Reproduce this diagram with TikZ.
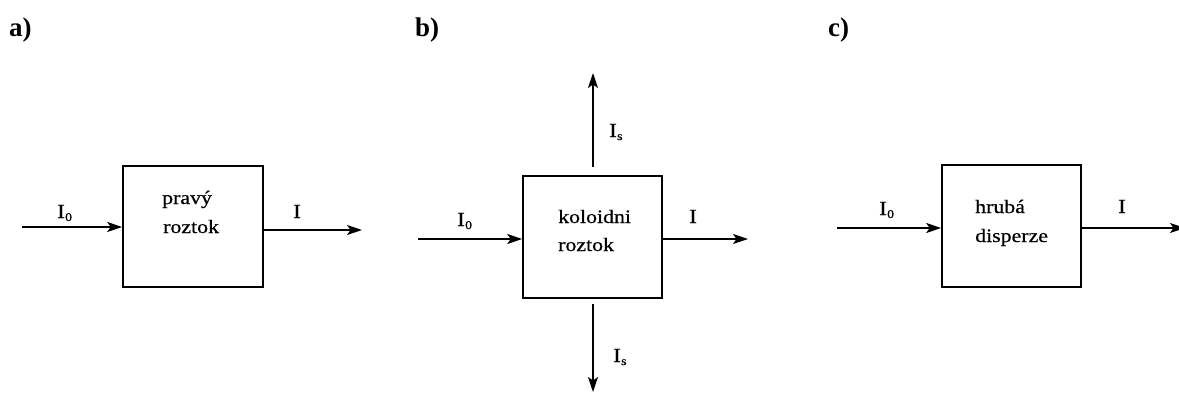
\documentclass[tikz,border=0pt]{standalone}
\usepackage{fontspec}
\setmainfont{Liberation Serif}
\newfontfamily\labfont[FakeStretch=1.15,FakeBold=0.6]{Liberation Serif}
\usetikzlibrary{arrows.meta}
\tikzset{
  blockbox/.style={draw, line width=1.6pt, rectangle, inner sep=0pt},
  flow/.style={line width=1.5pt, -{Stealth[length=15pt,width=10pt,inset=3.5pt]}},
  boxtext/.style={anchor=base west, inner sep=0pt, font=\labfont\fontsize{19}{19}\selectfont},
  flowlab/.style={anchor=base west, inner sep=0pt, font=\labfont\fontsize{20}{20}\selectfont},
  panel/.style={anchor=base west, inner sep=0pt, font=\bfseries\fontsize{27}{27}\selectfont}
}
\newcommand{\Isub}[1]{I\kern0.3pt\raisebox{-3pt}{\fontsize{12}{12}\selectfont #1}}
\begin{document}
\begin{tikzpicture}[x=1pt,y=-1pt]
\useasboundingbox (0,0) rectangle (1179,394);
% panel labels
\node[panel] (la) at (9,36) {a)};
\node[panel] (lb) at (415,36) {b)};
\node[panel] (lc) at (828,36) {c)};
% ---- a ----
\node[blockbox, minimum width=140pt, minimum height=121pt] (boxa) at (193,226.5) {};
\node[boxtext] (ta1) at (162,204) {pravý};
\node[boxtext] (ta2) at (163,233) {roztok};
\coordinate (ina) at (22,227);
\coordinate (outa) at (362,230);
\draw[flow] (ina) -- (ina -| boxa.west);
\draw[flow] (outa -| boxa.east) -- (outa);
\node[flowlab] (ia0) at (57,218) {\Isub{0}};
\node[flowlab] (ia) at (293,218) {I};
% ---- b ----
\node[blockbox, minimum width=139pt, minimum height=122pt] (boxb) at (592.5,237) {};
\node[boxtext] (tb1) at (558,223) {koloidni};
\node[boxtext] (tb2) at (558,251) {roztok};
\coordinate (inb) at (418,239);
\coordinate (outb) at (748,239);
\coordinate (upb0) at (593,167);
\coordinate (upb) at (593,73);
\coordinate (dnb0) at (593,304);
\coordinate (dnb) at (593,392);
\draw[flow] (inb) -- (inb -| boxb.west);
\draw[flow] (outb -| boxb.east) -- (outb);
\draw[flow] (upb0) -- (upb);
\draw[flow] (dnb0) -- (dnb);
\node[flowlab] (ib0) at (457,226) {\Isub{0}};
\node[flowlab] (ib) at (689,223) {I};
\node[flowlab] (ibs1) at (609,137) {\Isub{s}};
\node[flowlab] (ibs2) at (613,362) {\Isub{s}};
% ---- c ----
\node[blockbox, minimum width=139pt, minimum height=122pt] (boxc) at (1011.5,226) {};
\node[boxtext] (tc1) at (975,213) {hrubá};
\node[boxtext] (tc2) at (975,242) {disperze};
\coordinate (inc) at (837,228);
\coordinate (outc) at (1185,228);
\draw[flow] (inc) -- (inc -| boxc.west);
\draw[flow] (outc -| boxc.east) -- (outc);
\node[flowlab] (ic0) at (879,215) {\Isub{0}};
\node[flowlab] (ic) at (1118,213) {I};
\end{tikzpicture}
\end{document}
